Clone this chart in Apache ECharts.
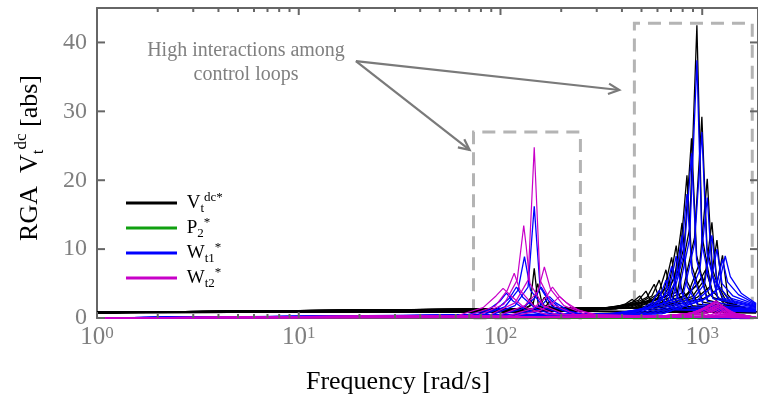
<!DOCTYPE html>
<html><head><meta charset="utf-8">
<script src="https://cdn.jsdelivr.net/npm/echarts@6/dist/echarts.min.js"></script>
<style>html,body{margin:0;padding:0;background:#fff}#c{width:758px;height:398px}</style>
</head><body><div id="c"></div>
<script>
// ---------- data ----------
const xMajorTicks = [1, 10, 100, 1000];
const xMinorTicks = [2,3,4,5,6,7,8,9,20,30,40,50,60,70,80,90,200,300,400,500,600,700,800,900];
const yTicks = [0, 10, 20, 30, 40];
const legendNames = ['Vt', 'P2', 'Wt1', 'Wt2'];

// P2* : stays at zero
const p2Curve = [[1,0],[1850,0]];

// Vt^dc* (black) – high-frequency resonances
const vtHigh = [
 [[1,0.8],[225,1.0],[360,1.5],[414,2.0],[450,2.7],[477,1.9],[540,1.2],[1850,0.9]],
 [[1,0.8],[245,1.1],[392,1.7],[451,2.3],[490,3.2],[519,2.1],[588,1.3],[1850,0.9]],
 [[1,0.8],[263,1.1],[421,1.9],[484,2.6],[526,3.9],[558,2.4],[631,1.4],[1850,0.9]],
 [[1,0.8],[289,1.2],[462,2.1],[532,3.0],[578,4.9],[613,2.8],[694,1.5],[1850,0.9]],
 [[1,0.8],[306,1.2],[490,2.2],[563,3.2],[612,5.5],[649,3.0],[734,1.5],[1850,0.9]],
 [[1,0.8],[330,1.3],[529,2.4],[608,3.6],[661,7.0],[701,3.3],[793,1.6],[1850,0.9]],
 [[1,0.8],[352,1.3],[564,2.6],[649,4.2],[705,8.8],[747,3.8],[846,1.7],[1850,0.9]],
 [[1,0.8],[372,1.3],[594,2.8],[684,4.8],[743,10.5],[788,4.3],[892,1.8],[1850,0.9]],
 [[1,0.8],[397,1.4],[635,3.0],[730,5.8],[794,13.8],[842,5.3],[953,2.0],[1850,0.9]],
 [[1,0.8],[420,1.4],[672,3.3],[773,8.3],[840,20.7],[890,7.5],[1008,2.3],[1850,0.9]],
 [[1,0.8],[443,1.4],[708,3.5],[814,10.4],[885,26.1],[938,9.1],[1062,2.6],[1850,0.9]],
 [[1,0.8],[470,1.5],[753,3.8],[866,13.0],[941,42.5],[997,12.0],[1129,3.0],[1850,0.9]],
 [[1,0.8],[498,1.5],[797,3.6],[916,11.7],[996,29.2],[1056,10.2],[1195,2.8],[1850,0.9]],
 [[1,0.8],[530,1.5],[847,3.4],[974,8.1],[1059,20.2],[1123,7.1],[1271,2.4],[1850,0.9]],
 [[1,0.8],[558,1.5],[894,3.1],[1028,5.6],[1117,13.9],[1184,5.0],[1340,2.0],[1850,0.9]],
 [[1,0.8],[592,1.5],[946,3.0],[1088,4.5],[1183,11.3],[1254,4.0],[1420,1.8],[1850,0.9]],
 [[1,0.8],[630,1.5],[1008,2.8],[1159,3.8],[1260,9.1],[1336,3.4],[1512,1.6],[1850,0.9]],
 [[1,0.8],[500,1.5],[800,3.0],[920,4.5],[1000,6.0],[1080,3.5],[1250,1.8],[1850,0.9]],
 [[1,0.8],[520,1.5],[830,3.2],[955,5.0],[1040,7.0],[1120,4.0],[1300,1.9],[1850,0.9]]
];
// Vt^dc* (black) – low-frequency resonances
const vtLow = [
 [[1,0.8],[110,0.9],[132,1.6],[140,2.8],[148,1.6],[175,1.0],[1850,0.8]],
 [[1,0.8],[120,0.9],[140,1.8],[147,7.2],[154,1.8],[180,1.0],[1850,0.8]],
 [[1,0.8],[125,0.9],[145,2.0],[153,5.0],[161,2.0],[190,1.0],[1850,0.8]],
 [[1,0.8],[135,0.9],[156,1.7],[165,3.0],[174,1.7],[205,1.0],[1850,0.8]],
 [[1,0.8],[140,0.9],[166,1.5],[175,2.4],[185,1.5],[215,1.0],[1850,0.8]]
];
// Wt1* (blue) – high-frequency resonances
const wt1High = [
 [[1,0],[306,0.4],[490,1.2],[563,2.2],[612,4.0],[649,2.2],[734,1.2],[1850,0.9]],
 [[1,0],[330,0.4],[529,1.4],[608,2.6],[661,5.5],[701,2.6],[793,1.3],[1850,1.0]],
 [[1,0],[352,0.5],[564,1.6],[649,3.3],[705,7.5],[747,3.2],[846,1.5],[1850,1.0]],
 [[1,0],[372,0.5],[594,1.8],[684,4.0],[743,9.0],[788,3.7],[892,1.6],[1850,1.1]],
 [[1,0],[397,0.5],[635,2.0],[730,5.0],[794,12.0],[842,4.6],[953,1.8],[1850,1.2]],
 [[1,0],[420,0.5],[672,2.3],[773,7.2],[840,18.0],[890,6.6],[1008,2.0],[1850,1.3]],
 [[1,0],[443,0.6],[708,2.6],[814,9.5],[885,23.9],[938,8.4],[1062,2.4],[1850,1.4]],
 [[1,0],[470,0.6],[753,2.9],[866,11.5],[941,37.4],[997,10.8],[1129,2.8],[1850,1.5]],
 [[1,0],[498,0.6],[797,2.8],[916,10.8],[996,27.0],[1056,9.4],[1195,2.9],[1850,1.6]],
 [[1,0],[530,0.6],[847,2.7],[974,7.0],[1059,17.5],[1123,6.2],[1271,2.9],[1850,1.7]],
 [[1,0],[558,0.6],[894,2.6],[1028,5.0],[1117,12.0],[1184,5.0],[1340,3.0],[1850,1.8]],
 [[1,0],[592,0.6],[946,2.6],[1088,4.2],[1183,10.0],[1254,5.0],[1420,3.2],[1850,1.9]],
 [[1,0],[630,0.6],[1008,2.6],[1159,3.8],[1260,8.5],[1336,5.2],[1512,3.4],[1850,2.0]],
 [[1,0],[650,0.7],[1040,2.8],[1196,4.2],[1300,9.0],[1378,6.0],[1560,3.6],[1850,2.1]]
];
// Wt1* (blue) – low-frequency resonances
const wt1Low = [
 [[1,0],[88,0.3],[118,1.8],[137,4.5],[147,16.2],[157,4.5],[180,1.7],[235,0.4],[1850,0]],
 [[1,0],[79,0.3],[105,1.6],[122,4.0],[131.5,8.9],[141,4.0],[164,1.5],[210,0.4],[1850,0]],
 [[1,0],[72,0.3],[96,1.3],[111,2.9],[120,4.5],[129,3.0],[150,1.3],[192,0.3],[1850,0]],
 [[1,0],[64,0.3],[86,1.1],[99,2.4],[107,3.6],[115,2.5],[134,1.1],[171,0.3],[1850,0]],
 [[1,0],[95,0.3],[127,1.3],[148,2.9],[159,4.5],[171,3.0],[199,1.3],[254,0.3],[1850,0]],
 [[1,0],[105,0.2],[140,1.0],[163,2.1],[175,3.1],[188,2.2],[219,1.0],[280,0.3],[1850,0]]
];
// Wt2* (magenta) – low-frequency resonances
const wt2Low = [
 [[1,0],[62,0.4],[82,1.5],[95,3.2],[103,4.3],[112,3.3],[130,1.6],[170,0.5],[1850,0]],
 [[1,0],[70,0.4],[94,1.7],[108,4.0],[117,6.5],[125,4.0],[146,1.8],[190,0.5],[1850,0]],
 [[1,0],[78,0.4],[104,2.0],[121,5.5],[130.4,13.4],[134,10.5],[140,5.0],[163,1.8],[210,0.5],[1850,0]],
 [[1,0],[88,0.4],[118,2.2],[137,5.5],[147,24.8],[157,5.5],[180,2.0],[235,0.5],[1850,0]],
 [[1,0],[99,0.4],[132,1.8],[153,3.8],[165,7.4],[177,4.2],[206,1.8],[265,0.5],[1850,0]],
 [[1,0],[109,0.3],[145,1.4],[168,3.0],[181,4.5],[195,3.2],[226,1.5],[290,0.4],[1850,0]],
 [[1,0],[118,0.3],[157,1.1],[182,2.2],[196,3.1],[211,2.3],[245,1.1],[315,0.3],[1850,0]]
];
// Wt2* (magenta) – high-frequency resonances (dense small humps)
const wt2High = [
 [[1,0],[450,0.1],[720,0.3],[900,0.8],[1035,0.35],[1850,0.05]],
 [[1,0],[480,0.1],[768,0.35],[960,1.0],[1104,0.4],[1850,0.05]],
 [[1,0],[510,0.1],[816,0.45],[1020,1.3],[1173,0.5],[1850,0.1]],
 [[1,0],[525,0.1],[840,0.5],[1050,1.5],[1210,0.55],[1850,0.1]],
 [[1,0],[540,0.15],[864,0.6],[1080,1.7],[1242,0.6],[1850,0.1]],
 [[1,0],[552,0.15],[884,0.65],[1105,1.9],[1270,0.7],[1850,0.1]],
 [[1,0],[565,0.15],[904,0.7],[1130,2.1],[1300,0.75],[1850,0.1]],
 [[1,0],[575,0.15],[920,0.75],[1150,2.3],[1322,0.8],[1850,0.1]],
 [[1,0],[585,0.15],[936,0.8],[1170,2.5],[1345,0.85],[1850,0.1]],
 [[1,0],[597,0.15],[956,0.8],[1195,2.3],[1374,0.8],[1850,0.1]],
 [[1,0],[610,0.15],[976,0.7],[1220,2.0],[1403,0.7],[1850,0.1]],
 [[1,0],[625,0.1],[1000,0.6],[1250,1.8],[1437,0.6],[1850,0.1]],
 [[1,0],[640,0.1],[1024,0.55],[1280,1.6],[1472,0.55],[1850,0.1]],
 [[1,0],[675,0.1],[1080,0.4],[1350,1.1],[1550,0.4],[1850,0.1]]
];

// annotation positions in data coordinates
const boxRegions = [[[73.5,0],[249,27]], [[461,0],[1770,42.8]]];
const arrowStart = [19.2, 37.3];
const arrowEnds = [[388, 33.1], [70.3, 24.4]];

// ---------- chart ----------
const chart = echarts.init(document.getElementById('c'), null, {renderer:'canvas'});
const FONT = 'Liberation Serif';
const AX = '#666666';
const colors = {Vt:'#000000', P2:'#10a010', Wt1:'#0000ff', Wt2:'#c800c8'};

function mkSeries(name, data, width) {
  return {type:'line', name, data, xAxisIndex:0, yAxisIndex:0, showSymbol:false, symbol:'none',
    silent:true, animation:false, emphasis:{disabled:true},
    lineStyle:{width, color:colors[name]}, itemStyle:{color:colors[name]}};
}
const series = [];
const g = mkSeries('P2', p2Curve, 2);
g.markArea = {silent:true, itemStyle:{color:'rgba(0,0,0,0)', borderColor:'#b4b4b4', borderWidth:3, borderType:[13,8]},
  data: boxRegions.map(b => [{coord:b[0]}, {coord:b[1]}])};
series.push(g);
vtHigh.forEach(d => series.push(mkSeries('Vt', d, 1.3)));
vtLow.forEach(d => series.push(mkSeries('Vt', d, 1.3)));
wt1High.forEach(d => series.push(mkSeries('Wt1', d, 1.3)));
wt1Low.forEach(d => series.push(mkSeries('Wt1', d, 1.3)));
wt2Low.forEach(d => series.push(mkSeries('Wt2', d, 1.2)));
wt2High.forEach(d => series.push(mkSeries('Wt2', d, 1.2)));

const X_MAX = 1890, Y_MAX = 45;
function xAx(pos, showLabel) {
  return {type:'log', logBase:10, min:1, max:X_MAX, position:pos,
    axisLine:{show:true, onZero:false, lineStyle:{color:AX, width:2}},
    axisTick:{show:false},
    axisLabel: showLabel ? {show:true, customValues:xMajorTicks, margin:7,
      formatter: v => '{b|10}{s|' + Math.round(Math.log10(v)) + '}',
      rich:{b:{fontFamily:FONT, fontSize:25, lineHeight:25, color:'#7f7f7f', verticalAlign:'bottom'},
            s:{fontFamily:FONT, fontSize:17, lineHeight:17, color:'#7f7f7f', verticalAlign:'top'}}}
      : {show:false},
    splitLine:{show:false}, minorTick:{show:false}, axisPointer:{show:false}};
}
const legendLabel = {
  Vt:' V{sub|t}{sup|dc*}', P2:' P{sub|2}{sup|*}', Wt1:' W{sub|t1}{sup|*}', Wt2:' W{sub|t2}{sup|*}'
};

chart.setOption({
  animation:false,
  backgroundColor:'#ffffff',
  grid:{left:97, right:-1, top:8, bottom:80, containLabel:false},
  xAxis:[xAx('bottom', true), xAx('top', false)],
  yAxis:[
    {type:'value', min:0, max:Y_MAX, position:'left',
     axisLine:{show:true, onZero:false, lineStyle:{color:AX, width:2}},
     axisTick:{show:false},
     axisLabel:{customValues:yTicks, margin:10, fontFamily:FONT, fontSize:24, color:'#7f7f7f'},
     splitLine:{show:false}},
    {type:'value', min:0, max:Y_MAX, position:'right',
     axisLine:{show:true, onZero:false, lineStyle:{color:AX, width:2}},
     axisTick:{show:false}, axisLabel:{show:false}, splitLine:{show:false}}
  ],
  legend:{data:legendNames, orient:'vertical', left:126, top:191, padding:0, itemWidth:51, itemHeight:3, itemGap:1,
    icon:'rect', selectedMode:false,
    formatter: n => legendLabel[n],
    textStyle:{fontFamily:FONT, fontSize:19, lineHeight:24, color:'#000',
      rich:{sub:{fontFamily:FONT, fontSize:13, lineHeight:13, verticalAlign:'bottom', color:'#000'},
            sup:{fontFamily:FONT, fontSize:13, lineHeight:13, verticalAlign:'top', color:'#000'}}}},
  series
});

// ---------- ticks (positions from the chart's own axis scales) + annotations ----------
const toPx = p => chart.convertToPixel({xAxisIndex:0, yAxisIndex:0}, p);
const gfx = [];
const tickStyle = {stroke:AX, lineWidth:2};
function tickLine(x1, y1, x2, y2) {
  gfx.push({type:'line', silent:true, z:50, shape:{x1, y1, x2, y2}, style:tickStyle});
}
const yBot = toPx([1, 0])[1], yTop = toPx([1, Y_MAX])[1];
xMajorTicks.forEach(v => { const x = toPx([v, 0])[0]; tickLine(x, yBot, x, yBot - 6); tickLine(x, yTop, x, yTop + 7); });
xMinorTicks.forEach(v => { const x = toPx([v, 0])[0]; tickLine(x, yBot, x, yBot - 4); tickLine(x, yTop, x, yTop + 4); });
const xL = toPx([1, 0])[0], xR = toPx([X_MAX, 0])[0];
yTicks.forEach(v => { const y = toPx([1, v])[1]; tickLine(xL, y, xL + 8, y); tickLine(xR, y, xR - 8, y); });

const s = toPx(arrowStart);
arrowEnds.forEach(e => {
  const t = toPx(e);
  gfx.push({type:'line', shape:{x1:s[0], y1:s[1], x2:t[0], y2:t[1]}, style:{stroke:'#7a7a7a', lineWidth:2.2}, silent:true});
  const a = Math.atan2(t[1]-s[1], t[0]-s[0]);
  const L = 12, w = 0.45;
  gfx.push({type:'polyline', shape:{points:[
    [t[0]-L*Math.cos(a-w), t[1]-L*Math.sin(a-w)], [t[0], t[1]], [t[0]-L*Math.cos(a+w), t[1]-L*Math.sin(a+w)]]},
    style:{stroke:'#7a7a7a', lineWidth:2.2, fill:null}, silent:true});
});
gfx.push({type:'text', x:246, y:63, silent:true,
  style:{text:'High interactions among\ncontrol loops', fontFamily:FONT, fontSize:20, lineHeight:24,
         fill:'#808080', align:'center', verticalAlign:'middle'}});
gfx.push({type:'text', x:398, y:382, silent:true,
  style:{text:'Frequency [rad/s]', fontFamily:FONT, fontSize:26, fill:'#000', align:'center', verticalAlign:'middle'}});
gfx.push({type:'text', x:30, y:158, rotation:Math.PI/2, silent:true,
  style:{text:'RGA  V{sub|t}{sup|dc} [abs]', fontFamily:FONT, fontSize:26, lineHeight:34, fill:'#000',
         align:'center', verticalAlign:'middle',
         rich:{sub:{fontFamily:FONT, fontSize:17, lineHeight:17, verticalAlign:'bottom', fill:'#000'},
               sup:{fontFamily:FONT, fontSize:17, lineHeight:17, verticalAlign:'top', fill:'#000'}}}});
chart.setOption({graphic:gfx});
</script></body></html>
